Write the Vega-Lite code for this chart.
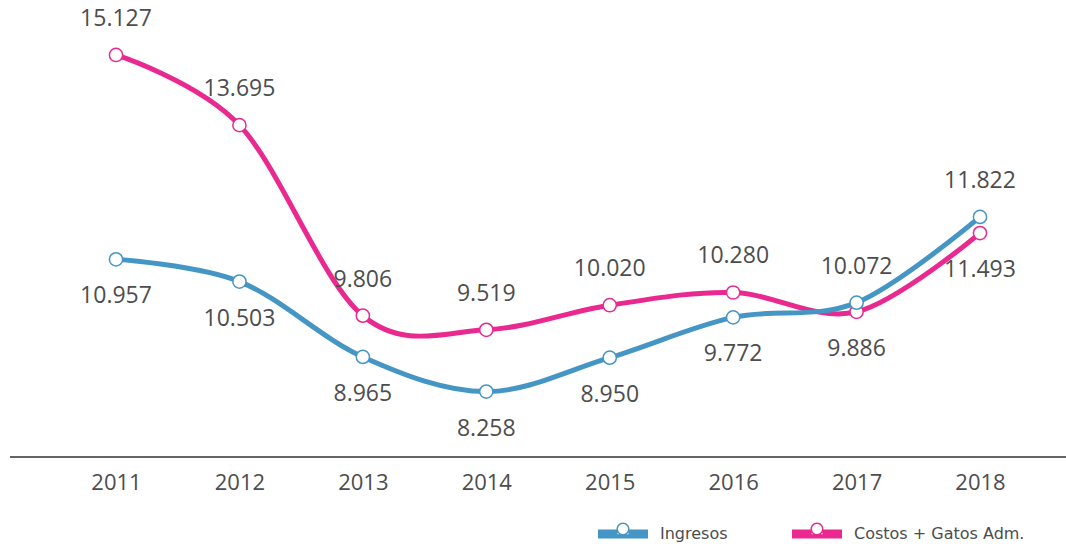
{
  "$schema": "https://vega.github.io/schema/vega-lite/v6.json",
  "width": 1056,
  "height": 457,
  "autosize": {"type": "none"},
  "padding": {"left": 10, "top": 0, "right": 0, "bottom": 87},
  "background": "white",
  "config": {"view": {"stroke": null}, "font": "Open Sans"},
  "data": {
    "values": [
      {"year": "2011", "serie": "Costos + Gatos Adm.", "valor": 15.127},
      {"year": "2012", "serie": "Costos + Gatos Adm.", "valor": 13.695},
      {"year": "2013", "serie": "Costos + Gatos Adm.", "valor": 9.806},
      {"year": "2014", "serie": "Costos + Gatos Adm.", "valor": 9.519},
      {"year": "2015", "serie": "Costos + Gatos Adm.", "valor": 10.020},
      {"year": "2016", "serie": "Costos + Gatos Adm.", "valor": 10.280},
      {"year": "2017", "serie": "Costos + Gatos Adm.", "valor": 9.886},
      {"year": "2018", "serie": "Costos + Gatos Adm.", "valor": 11.493},
      {"year": "2011", "serie": "Ingresos", "valor": 10.957},
      {"year": "2012", "serie": "Ingresos", "valor": 10.503},
      {"year": "2013", "serie": "Ingresos", "valor": 8.965},
      {"year": "2014", "serie": "Ingresos", "valor": 8.258},
      {"year": "2015", "serie": "Ingresos", "valor": 8.950},
      {"year": "2016", "serie": "Ingresos", "valor": 9.772},
      {"year": "2017", "serie": "Ingresos", "valor": 10.072},
      {"year": "2018", "serie": "Ingresos", "valor": 11.822}
    ]
  },
  "encoding": {
    "x": {
      "field": "year", "type": "ordinal",
      "scale": {"type": "point", "range": [106, 970], "padding": 0},
      "axis": {
        "title": null, "ticks": false, "domain": false,
        "labelFontSize": 22, "labelColor": "#4d4d4d", "labelPadding": 15, "labelAngle": 0,
        "labelFont": "Open Sans", "grid": false
      }
    },
    "y": {
      "field": "valor", "type": "quantitative",
      "scale": {"domain": [6.923, 16.249], "nice": false, "zero": false},
      "axis": null
    }
  },
  "layer": [
    {
      "mark": {"type": "rule", "color": "#666666", "strokeWidth": 1.5},
      "encoding": {"x": null, "y": {"datum": 6.923, "type": "quantitative"}}
    },
    {
      "transform": [{"filter": "datum.serie === 'Costos + Gatos Adm.'"}],
      "mark": {"type": "line", "interpolate": "cardinal", "strokeWidth": 5, "color": "#e9298f"}
    },
    {
      "transform": [{"filter": "datum.serie === 'Ingresos'"}],
      "mark": {"type": "line", "interpolate": "cardinal", "strokeWidth": 5, "color": "#4596c4"}
    },
    {
      "transform": [{"filter": "datum.serie === 'Costos + Gatos Adm.'"}],
      "mark": {"type": "point", "filled": false, "fill": "white", "fillOpacity": 1, "opacity": 1, "size": 175, "strokeWidth": 1.5, "stroke": "#e9298f"}
    },
    {
      "transform": [{"filter": "datum.serie === 'Ingresos'"}],
      "mark": {"type": "point", "filled": false, "fill": "white", "fillOpacity": 1, "opacity": 1, "size": 175, "strokeWidth": 1.5, "stroke": "#4596c4"}
    },
    {
      "transform": [{"filter": "datum.valor < 0"}],
      "mark": {"type": "point", "filled": true},
      "encoding": {
        "fill": {
          "field": "serie", "type": "nominal",
          "scale": {"domain": ["Ingresos", "Costos + Gatos Adm."], "range": ["#4596c4", "#e9298f"]},
          "legend": {
            "title": null, "orient": "none", "legendX": 588, "legendY": 509,
            "direction": "horizontal",
            "symbolType": "M-1,-0.18H-0.22V0.18H-1Z M0.22,-0.18H1V0.18H0.22Z M-0.22,0.01H0.22V0.18H-0.22Z M0.26,-0.2 A0.26,0.26 0 1,1 -0.26,-0.2 A0.26,0.26 0 1,1 0.26,-0.2 Z M0.2,-0.2 A0.2,0.2 0 1,0 -0.2,-0.2 A0.2,0.2 0 1,0 0.2,-0.2 Z",
            "symbolSize": 2500, "symbolStrokeWidth": 0, "symbolOpacity": 1,
            "labelFontSize": 16, "labelColor": "#4d4d4d", "labelFont": "DejaVu Sans",
            "labelOffset": 12, "columnPadding": 64, "labelLimit": 300
          }
        }
      }
    },
    {
      "transform": [{"filter": "(datum.serie === 'Costos + Gatos Adm.') !== (toNumber(datum.year) >= 2017)"}],
      "mark": {"type": "text", "dy": -36, "fontSize": 23, "color": "#4d4d4d", "font": "Open Sans"},
      "encoding": {"text": {"field": "valor", "type": "quantitative", "format": ".3f"}}
    },
    {
      "transform": [{"filter": "(datum.serie === 'Costos + Gatos Adm.') === (toNumber(datum.year) >= 2017)"}],
      "mark": {"type": "text", "dy": 37, "fontSize": 23, "color": "#4d4d4d", "font": "Open Sans"},
      "encoding": {"text": {"field": "valor", "type": "quantitative", "format": ".3f"}}
    }
  ]
}
